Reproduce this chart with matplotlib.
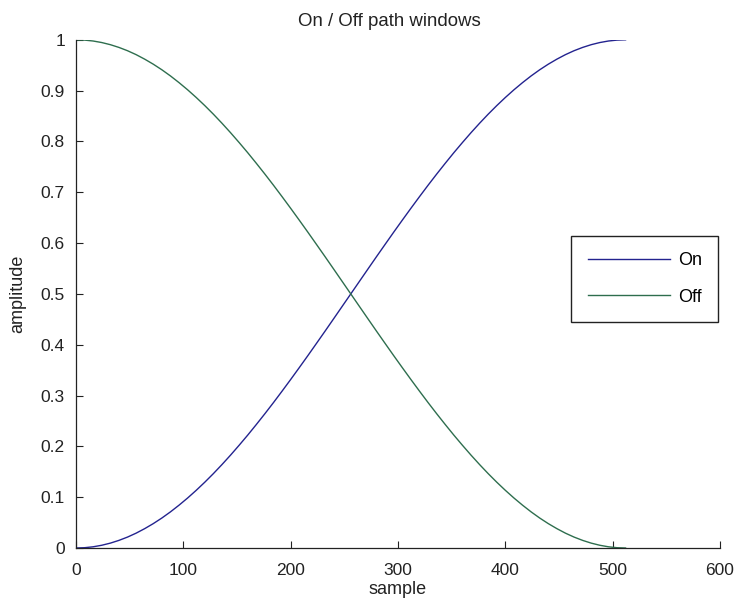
#!/usr/bin/env python3
# -*- coding: utf-8 -*-

import matplotlib
matplotlib.use('Agg')
import matplotlib.pyplot as plt

plt.rcParams['font.family'] = ['Liberation Sans', 'DejaVu Sans']

# window samples, every 8 samples over the 512-sample crossfade
sample = list(range(0, 513, 8))
on_win = [0.0000, 0.0006, 0.0024, 0.0054, 0.0096, 0.0150, 0.0215, 0.0292,
          0.0381, 0.0480, 0.0590, 0.0711, 0.0843, 0.0984, 0.1135, 0.1295,
          0.1464, 0.1642, 0.1828, 0.2022, 0.2222, 0.2430, 0.2643, 0.2862,
          0.3087, 0.3316, 0.3549, 0.3785, 0.4025, 0.4266, 0.4510, 0.4755,
          0.5000, 0.5245, 0.5490, 0.5734, 0.5975, 0.6215, 0.6451, 0.6684,
          0.6913, 0.7138, 0.7357, 0.7570, 0.7778, 0.7978, 0.8172, 0.8358,
          0.8536, 0.8705, 0.8865, 0.9016, 0.9157, 0.9289, 0.9410, 0.9520,
          0.9619, 0.9708, 0.9785, 0.9850, 0.9904, 0.9946, 0.9976, 0.9994,
          1.0000]
off_win = [1.0000, 0.9994, 0.9976, 0.9946, 0.9904, 0.9850, 0.9785, 0.9708,
           0.9619, 0.9520, 0.9410, 0.9289, 0.9157, 0.9016, 0.8865, 0.8705,
           0.8536, 0.8358, 0.8172, 0.7978, 0.7778, 0.7570, 0.7357, 0.7138,
           0.6913, 0.6684, 0.6451, 0.6215, 0.5975, 0.5734, 0.5490, 0.5245,
           0.5000, 0.4755, 0.4510, 0.4266, 0.4025, 0.3785, 0.3549, 0.3316,
           0.3087, 0.2862, 0.2643, 0.2430, 0.2222, 0.2022, 0.1828, 0.1642,
           0.1464, 0.1295, 0.1135, 0.0984, 0.0843, 0.0711, 0.0590, 0.0480,
           0.0381, 0.0292, 0.0215, 0.0150, 0.0096, 0.0054, 0.0024, 0.0006,
           0.0000]

x_ticks = [0, 100, 200, 300, 400, 500, 600]
y_ticks = [0, 0.1, 0.2, 0.3, 0.4, 0.5, 0.6, 0.7, 0.8, 0.9, 1]
y_labels = ['0', '0.1', '0.2', '0.3', '0.4', '0.5', '0.6', '0.7', '0.8',
            '0.9', '1']

fig = plt.figure(figsize=(7.4, 6.03), dpi=100)
ax = fig.add_axes([0.1027, 0.0912, 0.8703, 0.8428])

ax.plot(sample, on_win, color='#23238f', lw=1.0, label='On')
ax.plot(sample, off_win, color='#2e6e4e', lw=1.0, label='Off')

ax.set_xlim(0, 600)
ax.set_ylim(0, 1)
ax.set_xticks(x_ticks)
ax.set_yticks(y_ticks)
ax.set_yticklabels(y_labels)
ax.tick_params(direction='in', length=5, width=0.8, labelsize=12.5,
               colors='#222222', labelcolor='#222222')
ax.tick_params(axis='x', pad=11)
ax.tick_params(axis='y', pad=8)
ax.spines['top'].set_visible(False)
ax.spines['right'].set_visible(False)
for s in ('left', 'bottom'):
    ax.spines[s].set_color('#222222')
    ax.spines[s].set_linewidth(0.9)

ax.set_title('On / Off path windows', fontsize=13.4, color='#222222',
             pad=10, x=0.487)
ax.set_xlabel('sample', fontsize=13, color='#222222', labelpad=2)
ax.set_ylabel('amplitude', fontsize=13, color='#222222', labelpad=10)

leg = ax.legend(loc='upper right', bbox_to_anchor=(0.997, 0.614),
                fontsize=13, handlelength=4.55, handletextpad=0.44,
                borderpad=0.9, labelspacing=1.08, fancybox=False,
                framealpha=1, edgecolor='#222222', borderaxespad=0)
leg.get_frame().set_linewidth(1.0)

fig.savefig('out.png', dpi=100)
